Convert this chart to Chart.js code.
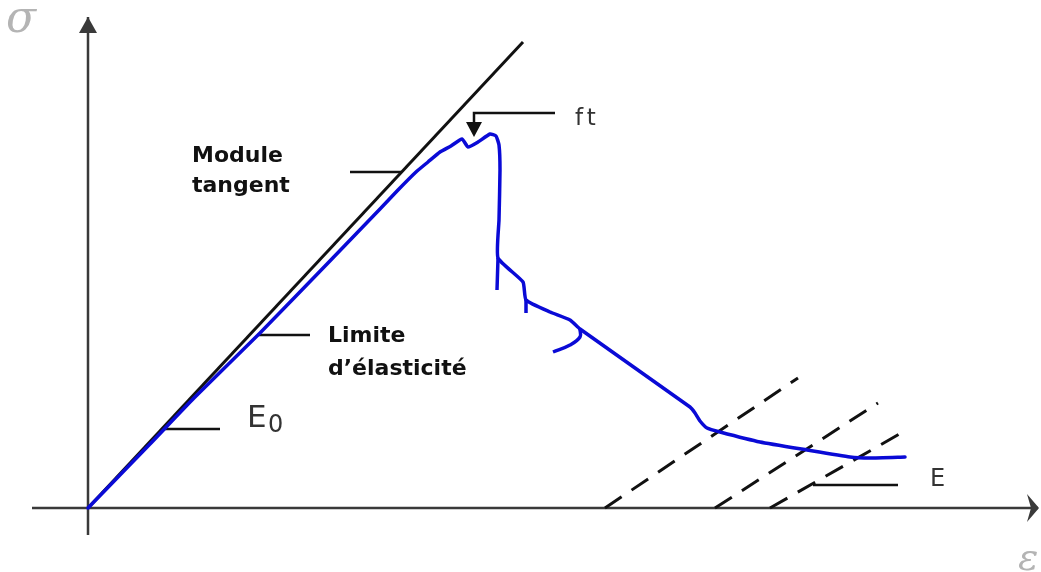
<!DOCTYPE html>
<html>
<head>
<meta charset="utf-8">
<title>Loi de comportement du béton en traction</title>
<script src="https://cdn.jsdelivr.net/npm/chart.js@4.4.1/dist/chart.umd.min.js"></script>
<style>
  html, body { margin: 0; padding: 0; background: #fff; }
  canvas { display: block; }
</style>
</head>
<body>
<canvas id="stress-strain" width="1041" height="572"></canvas>
<script>
// softening curve (strain, stress) in arbitrary units
const curveStrain = [0, 0.62, 1.06, 1.72, 2.39, 2.92, 3.10, 3.28, 3.40, 3.52, 3.63, 3.74, 3.80, 3.90, 4.02, 4.08,
    4.11, 4.12, 4.11, 4.10, 4.35, 4.38, 4.62, 4.82, 4.92, 6.02, 6.07, 6.12, 6.19, 6.32, 6.72, 7.19, 7.62, 7.82, 8.17];
const curveStress = [0, 0.64, 1.10, 1.75, 2.44, 2.99, 3.18, 3.36, 3.46, 3.56, 3.62, 3.69, 3.61, 3.66, 3.74, 3.72,
    3.63, 3.38, 2.88, 2.50, 2.26, 2.08, 1.96, 1.88, 1.79, 1.01, 0.95, 0.87, 0.80, 0.76, 0.66, 0.58, 0.51, 0.50, 0.51];

// little cracking branches hanging off the curve
const branchA = { strain: [4.10, 4.09], stress: [2.50, 2.18] };
const branchB = { strain: [4.38, 4.38], stress: [2.08, 1.95] };
const branchC = { strain: [4.92, 4.92, 4.82, 4.65], stress: [1.79, 1.71, 1.63, 1.56] };

// initial tangent modulus line E0
const tangentStrain = [0, 4.35];
const tangentStress = [0, 4.66];

// unloading lines (damaged modulus E)
const unload1 = { strain: [5.17, 7.10], stress: [0, 1.30] };
const unload2 = { strain: [6.27, 7.90], stress: [0, 1.05] };
const unload3 = { strain: [6.82, 8.15], stress: [0, 0.76] };

// axes
const axisX = { strain: [-0.56, 9.50], stress: [0, 0] };
const axisY = { strain: [0, 0], stress: [-0.27, 4.91] };

// short pointer lines next to the labels
const leaderModule = { strain: [2.62, 3.13], stress: [3.36, 3.36] };
const leaderLimite = { strain: [1.69, 2.22], stress: [1.73, 1.73] };
const leaderE0 = { strain: [0.75, 1.32], stress: [0.79, 0.79] };
const leaderE = { strain: [7.25, 8.10], stress: [0.23, 0.23] };
const leaderFt = { strain: [4.67, 3.86, 3.86], stress: [3.95, 3.95, 3.85] };
const ftTip = { strain: 3.86, stress: 3.71 };

function pts(xs, ys) {
    return xs.map((v, i) => ({ x: v, y: ys[i] }));
}

function line(xs, ys, color, width, dash) {
    return {
        data: pts(xs, ys),
        showLine: true,
        borderColor: color,
        borderWidth: width,
        borderDash: dash || [],
        pointRadius: 0,
        tension: 0,
        fill: false
    };
}

const BLUE = "#0a0ad6";
const INK = "#111";
const AXIS = "#3a3a3a";

const blueCurve = line(curveStrain, curveStress, BLUE, 3.5);
blueCurve.tension = 0.15;
blueCurve.borderCapStyle = "round";
blueCurve.borderJoinStyle = "round";

const datasets = [
    blueCurve,
    line(branchA.strain, branchA.stress, BLUE, 3.5),
    line(branchB.strain, branchB.stress, BLUE, 3.5),
    Object.assign(line(branchC.strain, branchC.stress, BLUE, 3.5), { tension: 0.4 }),
    line(tangentStrain, tangentStress, INK, 3),
    line(unload1.strain, unload1.stress, INK, 3, [20, 12]),
    line(unload2.strain, unload2.stress, INK, 3, [20, 12]),
    line(unload3.strain, unload3.stress, INK, 3, [20, 12]),
    line(leaderModule.strain, leaderModule.stress, INK, 2.5),
    line(leaderLimite.strain, leaderLimite.stress, INK, 2.5),
    line(leaderE0.strain, leaderE0.stress, INK, 2.5),
    line(leaderE.strain, leaderE.stress, INK, 2.5),
    line(leaderFt.strain, leaderFt.stress, INK, 2.5),
    line(axisX.strain, axisX.stress, AXIS, 2.5),
    line(axisY.strain, axisY.stress, AXIS, 2.5)
];

const texts = [
    { t: "Module", x: 1.04, y: 3.46, font: "bold 22px 'DejaVu Sans'", c: "#111" },
    { t: "tangent", x: 1.04, y: 3.16, font: "bold 22px 'DejaVu Sans'", c: "#111" },
    { t: "Limite", x: 2.40, y: 1.66, font: "bold 22px 'DejaVu Sans'", c: "#111" },
    { t: "d\u2019élasticité", x: 2.40, y: 1.33, font: "bold 22px 'DejaVu Sans'", c: "#111" },
    { t: "E", x: 1.59, y: 0.81, font: "31px 'DejaVu Sans'", c: "#333" },
    { t: "0", x: 1.80, y: 0.76, font: "24px 'DejaVu Sans'", c: "#333" },
    { t: "ft", x: 4.87, y: 3.83, font: "23px 'DejaVu Sans'", c: "#333", sp: "4px" },
    { t: "E", x: 8.42, y: 0.22, font: "24px 'DejaVu Sans'", c: "#333" },
    { t: "σ", x: -0.82, y: 4.76, font: "italic 44px 'DejaVu Serif'", c: "#b4b4b4" },
    { t: "ε", x: 9.30, y: -0.62, font: "italic 38px 'DejaVu Serif'", c: "#b4b4b4" }
];

const sketchDecor = {
    id: "sketchDecor",
    afterDatasetsDraw(chart) {
        const { ctx, scales: { x, y } } = chart;
        ctx.save();

        // filled arrow at the top of the stress axis
        const yTopX = x.getPixelForValue(axisY.strain[1]);
        const yTopY = y.getPixelForValue(axisY.stress[1]);
        ctx.fillStyle = AXIS;
        ctx.beginPath();
        ctx.moveTo(yTopX, yTopY);
        ctx.lineTo(yTopX - 9, yTopY + 16);
        ctx.lineTo(yTopX + 9, yTopY + 16);
        ctx.closePath();
        ctx.fill();

        // dart-shaped arrow at the end of the strain axis
        const xEndX = x.getPixelForValue(axisX.strain[1]);
        const xEndY = y.getPixelForValue(axisX.stress[1]);
        ctx.beginPath();
        ctx.moveTo(xEndX + 1, xEndY);
        ctx.lineTo(xEndX - 11, xEndY - 14);
        ctx.lineTo(xEndX - 7, xEndY);
        ctx.lineTo(xEndX - 11, xEndY + 14);
        ctx.closePath();
        ctx.fill();

        // arrow pointing at the tensile strength ft
        const tx = x.getPixelForValue(ftTip.strain);
        const ty = y.getPixelForValue(ftTip.stress);
        ctx.fillStyle = INK;
        ctx.beginPath();
        ctx.moveTo(tx, ty);
        ctx.lineTo(tx - 8, ty - 15);
        ctx.lineTo(tx + 8, ty - 15);
        ctx.closePath();
        ctx.fill();

        ctx.textBaseline = "alphabetic";
        ctx.textAlign = "left";
        texts.forEach(item => {
            ctx.font = item.font;
            ctx.fillStyle = item.c;
            ctx.letterSpacing = item.sp || "0px";
            ctx.fillText(item.t, x.getPixelForValue(item.x), y.getPixelForValue(item.y));
        });

        ctx.restore();
    }
};

new Chart(document.getElementById("stress-strain"), {
    type: "scatter",
    data: { datasets: datasets },
    options: {
        responsive: false,
        animation: false,
        layout: { padding: 0 },
        scales: {
            x: { type: "linear", min: -0.88, max: 9.53, display: false },
            y: { type: "linear", min: -0.64, max: 5.08, display: false }
        },
        plugins: {
            legend: { display: false },
            tooltip: { enabled: false }
        },
        events: []
    },
    plugins: [sketchDecor]
});
</script>
</body>
</html>
